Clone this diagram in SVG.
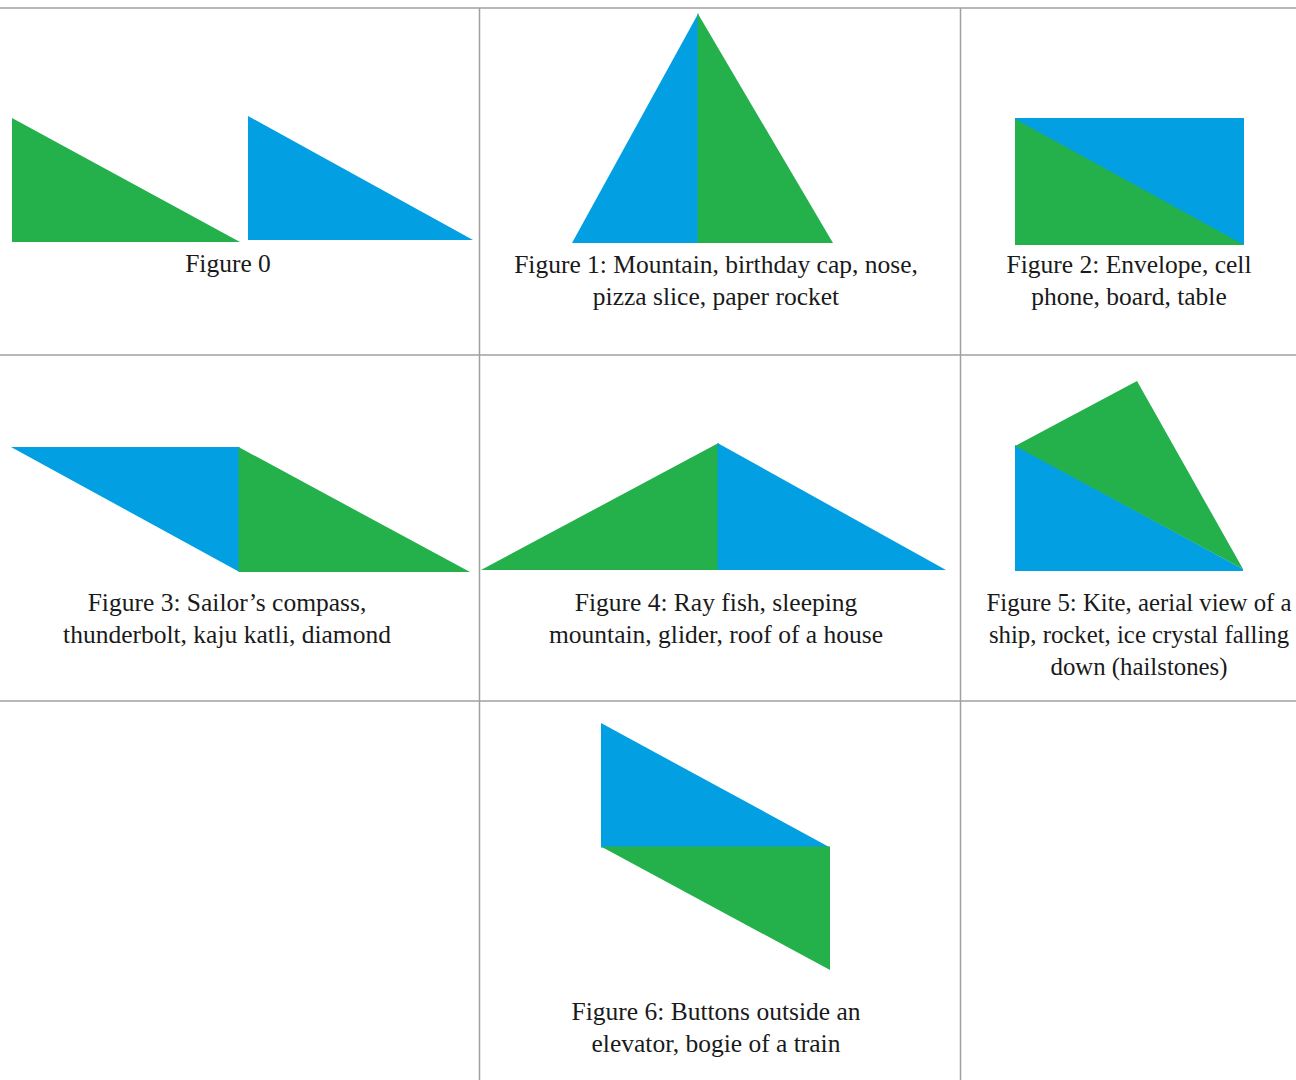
<svg xmlns="http://www.w3.org/2000/svg" width="1296" height="1080" viewBox="0 0 1296 1080">
<style>
.g{fill:#24b14c}
.b{fill:#02a0e3}
.grid{stroke:#a0a0a0;stroke-width:1.5;fill:none}
text{font-family:"Liberation Serif","DejaVu Serif",serif;font-size:25.5px;fill:#1a1a1a;text-anchor:middle}
.sm{font-size:24.8px}
</style>
<rect width="1296" height="1080" fill="#fff"/>
<g id="grid" class="grid">
<line x1="0" y1="8" x2="1296" y2="8"/>
<line x1="0" y1="355" x2="1296" y2="355"/>
<line x1="0" y1="701" x2="1296" y2="701"/>
<line x1="479.5" y1="8" x2="479.5" y2="1080"/>
<line x1="960.5" y1="8" x2="960.5" y2="1080"/>
</g>
<g id="fig0">
<polygon class="g" points="12,118 12,242 240,242"/>
<polygon class="b" points="248,116 248,240 473,240"/>
<text x="228" y="272">Figure 0</text>
</g>
<g id="fig1">
<polygon class="b" points="698.5,13 698.5,243 572,243"/>
<polygon class="g" points="697.5,13 833,243 697.5,243"/>
<text x="716" y="273">Figure 1: Mountain, birthday cap, nose,</text>
<text x="716" y="305">pizza slice, paper rocket</text>
</g>
<g id="fig2">
<rect class="b" x="1015" y="118" width="229" height="127"/>
<polygon class="g" points="1015,119 1244,245 1015,245"/>
<text x="1129" y="273">Figure 2: Envelope, cell</text>
<text x="1129" y="305">phone, board, table</text>
</g>
<g id="fig3">
<polygon class="b" points="11,447 239.5,447 239.5,572"/>
<polygon class="g" points="238.5,447 470,572 238.5,572"/>
<text x="227" y="611">Figure 3: Sailor’s compass,</text>
<text x="227" y="643">thunderbolt, kaju katli, diamond</text>
</g>
<g id="fig4">
<polygon class="g" points="718.5,443 718.5,570 481,570"/>
<polygon class="b" points="717.5,443 946,570 717.5,570"/>
<text x="716" y="611">Figure 4: Ray fish, sleeping</text>
<text x="716" y="643">mountain, glider, roof of a house</text>
</g>
<g id="fig5">
<polygon class="b" points="1015,445 1243,569 1243,571 1015,571"/>
<polygon class="g" points="1015,446 1137,381 1243,569"/>
<text class="sm" x="1139" y="611">Figure 5: Kite, aerial view of a</text>
<text class="sm" x="1139" y="643">ship, rocket, ice crystal falling</text>
<text class="sm" x="1139" y="675">down (hailstones)</text>
</g>
<g id="fig6">
<polygon class="b" points="601,723 830,847.5 601,847.5"/>
<polygon class="g" points="601,846.5 830,846.5 830,970"/>
<text x="716" y="1020">Figure 6: Buttons outside an</text>
<text x="716" y="1052">elevator, bogie of a train</text>
</g>
</svg>
